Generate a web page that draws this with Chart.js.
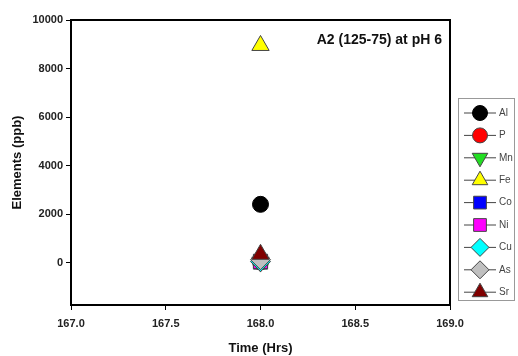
<!DOCTYPE html>
<html><head><meta charset="utf-8">
<script src="https://cdn.jsdelivr.net/npm/chart.js@4"></script>
<style>html,body{margin:0;padding:0;background:#fff;}#wrap{width:518px;height:356px;position:relative;}</style>
</head><body><div id="wrap"><canvas id="c" width="518" height="356"></canvas></div>
<script>
const elements = ["Al","P","Mn","Fe","Co","Ni","Cu","As","Sr"];
const timeHrs = [168.0];
const alVals = [2400];
const pVals = [20];
const mnVals = [20];
const feVals = [8950];
const coVals = [20];
const niVals = [50];
const cuVals = [40];
const asVals = [120];
const srVals = [340];
const yTicks = [0,2000,4000,6000,8000,10000];
const xTicks = [167.0,167.5,168.0,168.5,169.0];

const styles = {
  Al:{c:'#000000',s:'circle',rot:0,r:8},
  P:{c:'#ff0000',s:'circle',rot:0,r:8},
  Mn:{c:'#22dd22',s:'triangle',rot:180,r:10},
  Fe:{c:'#ffff00',s:'triangle',rot:0,r:10},
  Co:{c:'#0000ff',s:'rect',rot:0,r:10},
  Ni:{c:'#ff00ff',s:'rect',rot:0,r:10},
  Cu:{c:'#00ffff',s:'rectRot',rot:0,r:10},
  As:{c:'#c0c0c0',s:'rectRot',rot:0,r:10},
  Sr:{c:'#800000',s:'triangle',rot:0,r:10}
};
const seriesVals = [alVals,pVals,mnVals,feVals,coVals,niVals,cuVals,asVals,srVals];
const datasets = elements.map((el,i)=>({
  label: el,
  data: timeHrs.map((t,j)=>({x:t,y:seriesVals[i][j]})),
  pointStyle: styles[el].s,
  rotation: styles[el].rot,
  pointRadius: styles[el].r,
  pointBackgroundColor: styles[el].c,
  pointBorderColor: el==='Al' ? '#000' : '#444',
  pointBorderWidth: 1,
  showLine:false,
  order: elements.length-1-i
}));

const legendPlugin = {
  id:'customLegend',
  afterDraw(chart){
    const ctx = chart.ctx;
    ctx.save();
    ctx.strokeStyle='#999'; ctx.lineWidth=1;
    ctx.strokeRect(458.5,98.5,56,202);
    elements.forEach((el,i)=>{
      const y = 113 + i*22.4;
      const cx = 480;
      ctx.strokeStyle='#444'; ctx.lineWidth=1;
      ctx.beginPath(); ctx.moveTo(464,y); ctx.lineTo(496,y); ctx.stroke();
      ctx.fillStyle=styles[el].c; ctx.strokeStyle= el==='Al'?'#000':'#444';
      const st = styles[el];
      Chart.helpers.drawPoint(ctx,{pointStyle:st.s,rotation:st.rot,radius: st.s==='circle'?7.5:9,borderWidth:1},cx,y);
      ctx.fillStyle='#444'; ctx.font='10px "Liberation Sans", Arial, sans-serif';
      ctx.textBaseline='middle'; ctx.textAlign='left';
      ctx.fillText(el,499,y);
    });
    ctx.fillStyle='#111'; ctx.font='bold 14px "Liberation Sans", Arial, sans-serif';
    ctx.textAlign='right'; ctx.textBaseline='middle';
    ctx.fillText('A2 (125-75) at pH 6',442,40);
    const a = chart.chartArea;
    ctx.strokeStyle='#000'; ctx.lineWidth=2;
    ctx.strokeRect(a.left,a.top,a.right-a.left,a.bottom-a.top);
    ctx.restore();
  }
};

new Chart(document.getElementById('c'),{
  type:'scatter',
  data:{datasets},
  options:{
    responsive:false, animation:false,
    layout:{padding:{left:0,right:68,top:20,bottom:0}},
    plugins:{legend:{display:false},tooltip:{enabled:false}},
    scales:{
      x:{type:'linear',min:167,max:169,
        afterBuildTicks(s){s.ticks = xTicks.map(v=>({value:v}));},
        afterFit(s){s.height=51;},
        grid:{drawOnChartArea:false,drawTicks:true,tickLength:5,color:'#000',lineWidth:1},
        border:{color:'#000',width:2},
        ticks:{color:'#222',font:{family:'"Liberation Sans", Arial, sans-serif',size:11,weight:'bold'},padding:7,maxRotation:0,callback:v=>Number(v).toFixed(1)},
        title:{display:true,text:'Time (Hrs)',color:'#111',font:{family:'"Liberation Sans", Arial, sans-serif',size:13,weight:'bold'},padding:{top:4,bottom:0}}
      },
      y:{type:'linear',min:-1750,max:10000,
        afterBuildTicks(s){s.ticks = yTicks.map(v=>({value:v}));},
        afterFit(s){s.width=71;},
        grid:{drawOnChartArea:false,drawTicks:true,tickLength:5,color:'#000',lineWidth:1},
        border:{color:'#000',width:2},
        ticks:{color:'#222',font:{family:'"Liberation Sans", Arial, sans-serif',size:11,weight:'bold'},padding:3,callback:v=>String(v)},
        title:{display:true,text:'Elements (ppb)',color:'#111',font:{family:'"Liberation Sans", Arial, sans-serif',size:13,weight:'bold'},padding:{top:10,bottom:4}}
      }
    }
  },
  plugins:[legendPlugin]
});
</script></body></html>
